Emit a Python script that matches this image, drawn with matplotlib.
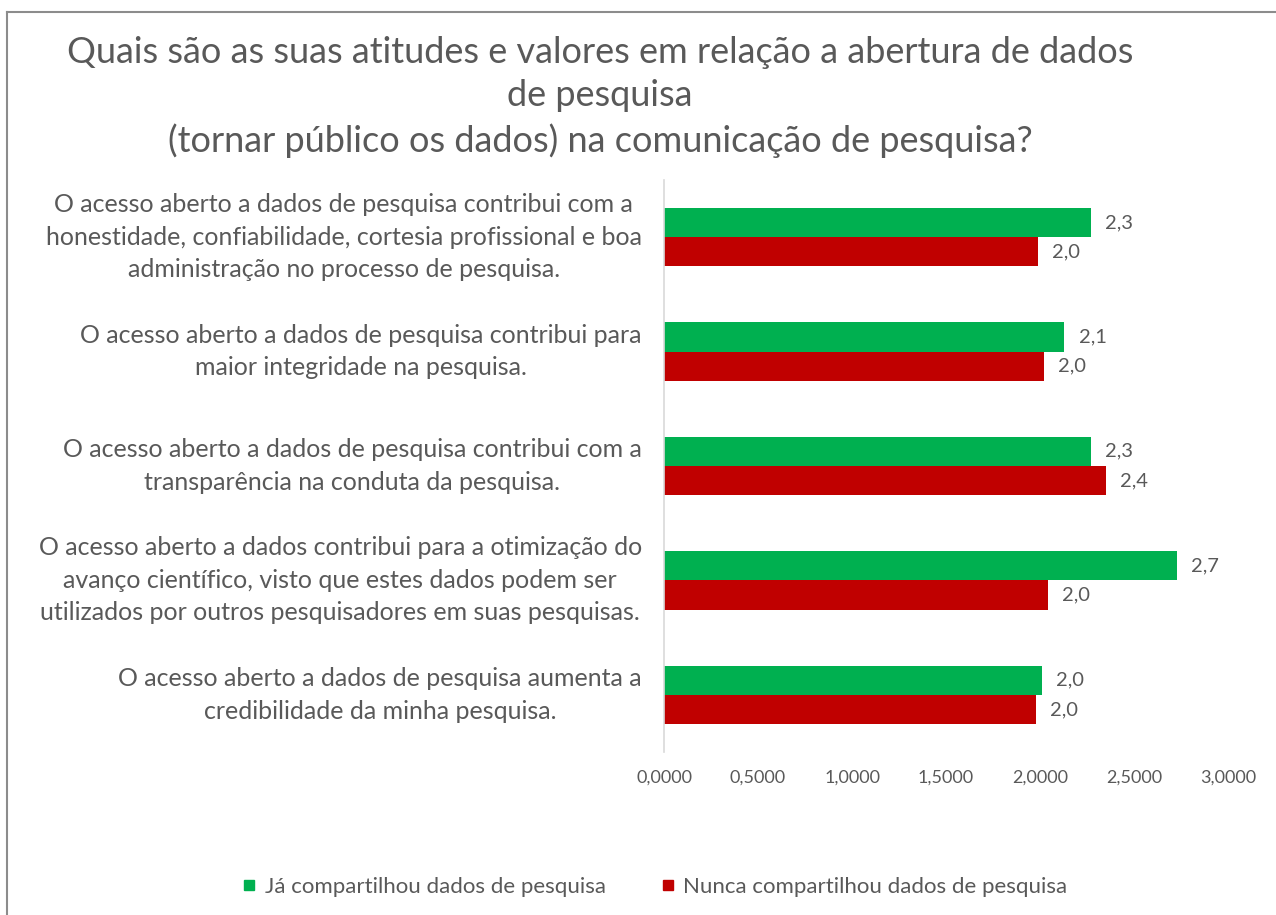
import numpy as np
import matplotlib.pyplot as plt
from matplotlib.lines import Line2D

plt.rcParams['font.family'] = ['Lato', 'DejaVu Sans']

title = ("Quais são as suas atitudes e valores em relação a abertura de dados\n"
         "de pesquisa\n"
         "(tornar público os dados) na comunicação de pesquisa?")

statements = [
    "O acesso aberto a dados de pesquisa contribui com a\n"
    "honestidade, confiabilidade, cortesia profissional e boa\n"
    "administração no processo de pesquisa.",
    "O acesso aberto a dados de pesquisa contribui para\n"
    "maior integridade na pesquisa.",
    "O acesso aberto a dados de pesquisa contribui com a\n"
    "transparência na conduta da pesquisa.",
    "O acesso aberto a dados contribui para a otimização do\n"
    "avanço científico, visto que estes dados podem ser\n"
    "utilizados por outros pesquisadores em suas pesquisas.",
    "O acesso aberto a dados de pesquisa aumenta a\n"
    "credibilidade da minha pesquisa.",
]

shared = [2.27, 2.13, 2.27, 2.73, 2.01]
never_shared = [1.99, 2.02, 2.35, 2.04, 1.98]

series_names = ["Já compartilhou dados de pesquisa",
                "Nunca compartilhou dados de pesquisa"]
green = "#00B050"
red = "#C00000"
grey = "#595959"

fig = plt.figure(figsize=(12.76, 9.15), dpi=100)
ax = fig.add_axes([0.5204, 0.1781, 0.442, 0.6252])

y = np.arange(len(statements))
h = 0.256
ax.barh(y - h / 2, shared, height=h, color=green, label=series_names[0])
ax.barh(y + h / 2, never_shared, height=h, color=red, label=series_names[1])

for yi, v in zip(y - h / 2, shared):
    ax.text(v + 0.075, yi, f"{v:.1f}".replace('.', ','), va='center',
            ha='left', fontsize=14.5, color=grey)
for yi, v in zip(y + h / 2, never_shared):
    ax.text(v + 0.075, yi, f"{v:.1f}".replace('.', ','), va='center',
            ha='left', fontsize=14.5, color=grey)

ax.set_xlim(0, 3)
ax.set_ylim(len(statements) - 0.5, -0.5)
ticks = np.arange(0, 3.01, 0.5)
ax.set_xticks(ticks)
ax.set_xticklabels([f"{t:.4f}".replace('.', ',') for t in ticks],
                   fontsize=13, color=grey)
ax.set_yticks(y)
ax.set_yticklabels(statements, fontsize=18, color=grey,
                   multialignment='center', linespacing=1.5)
for lbl in ax.get_yticklabels():
    lbl.set_va('center')
ax.tick_params(axis='both', length=0)
ax.tick_params(axis='x', pad=13)
ax.tick_params(axis='y', pad=16)

for s in ['top', 'right', 'bottom']:
    ax.spines[s].set_visible(False)
ax.spines['left'].set_color('#d9d9d9')
ax.spines['left'].set_linewidth(1.2)

fig.text(600 / 1276, 1 - 36 / 915, title, ha='center', va='top',
         fontsize=26, color=grey, linespacing=1.38)

handles = [Line2D([], [], marker='s', linestyle='none', markersize=7,
                  color=green),
           Line2D([], [], marker='s', linestyle='none', markersize=7,
                  color=red)]
fig.legend(handles, series_names, loc='center',
           bbox_to_anchor=(655 / 1276, 1 - 887 / 915),
           ncol=2, frameon=False, fontsize=16, handlelength=0.6,
           handletextpad=0.4, columnspacing=2.5, labelcolor=grey)

# chart frame (only top and left edges fall inside the image)
fig.add_artist(Line2D([7 / 1276, 1], [1 - 12 / 915, 1 - 12 / 915],
                      transform=fig.transFigure, color='#8c8c8c', lw=1.5))
fig.add_artist(Line2D([7 / 1276, 7 / 1276], [0, 1 - 12 / 915],
                      transform=fig.transFigure, color='#8c8c8c', lw=1.5))

fig.savefig("out.png", dpi=100)
